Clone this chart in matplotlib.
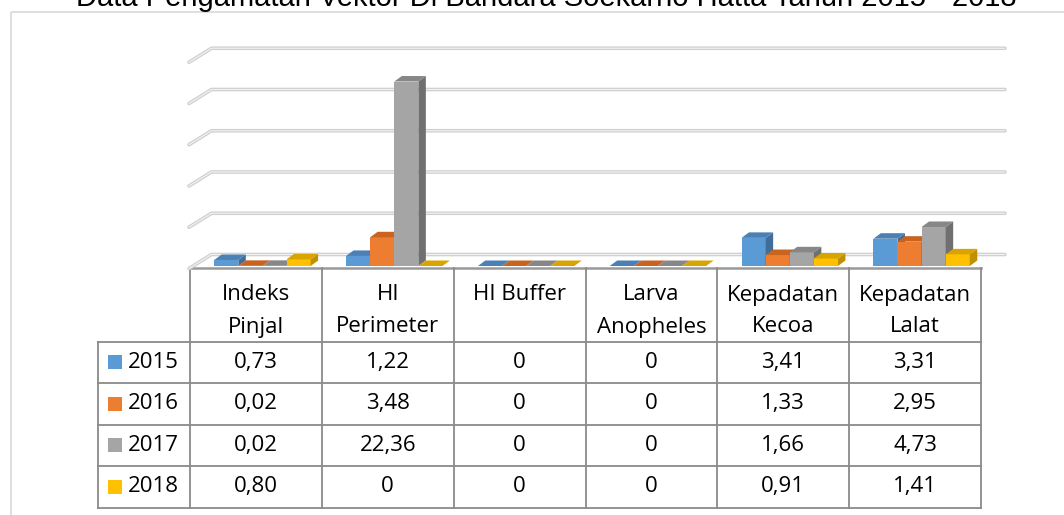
import matplotlib
matplotlib.use("Agg")
import matplotlib.pyplot as plt
from matplotlib.patches import Polygon, Rectangle

# ---------------- data ----------------
categories = ["Indeks\nPinjal", "HI\nPerimeter", "HI Buffer", "Larva\nAnopheles",
              "Kepadatan\nKecoa", "Kepadatan\nLalat"]
years = ["2015", "2016", "2017", "2018"]
v2015 = [0.73, 1.22, 0, 0, 3.41, 3.31]
v2016 = [0.02, 3.48, 0, 0, 1.33, 2.95]
v2017 = [0.02, 22.36, 0, 0, 1.66, 4.73]
v2018 = [0.80, 0, 0, 0, 0.91, 1.41]
series = [v2015, v2016, v2017, v2018]
grid_ticks = [0, 5, 10, 15, 20, 25]
title = "Data Pengamatan Vektor Di Bandara Soekarno Hatta Tahun 2015 - 2018"

front_cols = ["#5B9BD5", "#ED7D31", "#A5A5A5", "#FFC000"]
top_cols = ["#4a80b4", "#c8641f", "#878787", "#d9a300"]
side_cols = ["#3f6e9b", "#ad561b", "#707070", "#bf9000"]

FONT = "Open Sans"
FS = 16

W, H = 1064, 515
fig = plt.figure(figsize=(W / 100, H / 100), dpi=100)
ax = fig.add_axes([0, 0, 1, 1])
ax.set_xlim(0, W)
ax.set_ylim(H, 0)
ax.axis("off")

# chart border
ax.add_patch(Rectangle((11, 12), 1200, 700, fill=False, edgecolor="#d9d9d9", lw=1.2))

# title (partially cut at top)
ax.text(546, 6, title, ha="center", va="baseline", fontsize=21,
        family="Liberation Sans", color="#000000", clip_on=True)

# ---------------- bars axes ----------------
x0_px, x1_px = 190, 981
base_px = 266
ky = 8.25  # px per unit
ymax = 30
bx = fig.add_axes([x0_px / W, (H - base_px) / H, (x1_px - x0_px) / W, ky * ymax / H])
bx.set_xlim(-0.5, len(categories) - 0.5)
bx.set_ylim(0, ymax)
bx.axis("off")
bx.patch.set_alpha(0)
kx = (x1_px - x0_px) / len(categories)

# back wall gridlines
wdx, wdy = 21.5 / kx, 11.5 / ky
sdy = 14.0 / ky
xend = (1005 - x0_px) / kx - 0.5
for t in grid_ticks:
    yb = t + wdy
    xs = [-0.5 - 1 / kx, -0.5 + wdx, xend]
    ys = [yb - sdy, yb, yb]
    bx.plot(xs, ys, color="#cfcfcf", lw=2.6, solid_capstyle="round", clip_on=False, zorder=1)
    bx.plot(xs, ys, color="#f3f3f3", lw=0.8, solid_capstyle="round", clip_on=False, zorder=1.1)

# 3D bars
bw = 24.1 / kx
goff = 6.5 / kx
ddx, ddy = 7.5 / kx, 5.5 / ky
for ci in range(len(categories)):
    for si, vals in enumerate(series):
        v = vals[ci]
        xc = ci + goff + (si - 1.5) * bw
        xl, xr = xc - bw / 2, xc + bw / 2
        z = 2 + si * 0.1
        if v > 0:
            bx.add_patch(Polygon([(xl, 0), (xr, 0), (xr, v), (xl, v)], closed=True,
                                 facecolor=front_cols[si], edgecolor="none", zorder=z, clip_on=False))
            bx.add_patch(Polygon([(xr, 0), (xr + ddx, ddy), (xr + ddx, v + ddy), (xr, v)], closed=True,
                                 facecolor=side_cols[si], edgecolor="none", zorder=z, clip_on=False))
        bx.add_patch(Polygon([(xl, v), (xr, v), (xr + ddx, v + ddy), (xl + ddx, v + ddy)], closed=True,
                             facecolor=top_cols[si], edgecolor="none", zorder=z, clip_on=False))

# ---------------- table ----------------
col_edges = [x0_px + i * kx for i in range(len(categories) + 1)]
lab_left = 98
top_y = 268
head_bot = 341.7
row_h = 41.5
row_edges = [head_bot + i * row_h for i in range(len(years) + 1)]
lc = "#8a8a8a"
lw = 1.3

ax.plot([col_edges[0], col_edges[-1]], [top_y, top_y], color="#999999", lw=1.8, zorder=3)
for x in col_edges:
    ax.plot([x, x], [top_y, row_edges[-1]], color=lc, lw=lw, zorder=3)
ax.plot([lab_left, lab_left], [head_bot, row_edges[-1]], color=lc, lw=lw, zorder=3)
for y in row_edges:
    ax.plot([lab_left, col_edges[-1]], [y, y], color=lc, lw=lw, zorder=3)

# header text
for ci, cat in enumerate(categories):
    xc = (col_edges[ci] + col_edges[ci + 1]) / 2
    for li, line in enumerate(cat.split("\n")):
        ax.text(xc, 295 + li * 32, line, ha="center", va="center", fontsize=FS,
                family=FONT, color="#000000")


def fmt(v):
    return "0" if v == 0 else f"{v:.2f}".replace(".", ",")


for si, (yr, vals) in enumerate(zip(years, series)):
    yc = (row_edges[si] + row_edges[si + 1]) / 2
    ax.add_patch(Rectangle((108, yc - 7), 14, 14, facecolor=front_cols[si], edgecolor="none"))
    ax.text(128, yc, yr, ha="left", va="center", fontsize=FS, family=FONT, color="#000000")
    for ci, v in enumerate(vals):
        xc = (col_edges[ci] + col_edges[ci + 1]) / 2
        ax.text(xc, yc, fmt(v), ha="center", va="center", fontsize=FS, family=FONT,
                color="#000000")

fig.savefig("out.png", dpi=100)
